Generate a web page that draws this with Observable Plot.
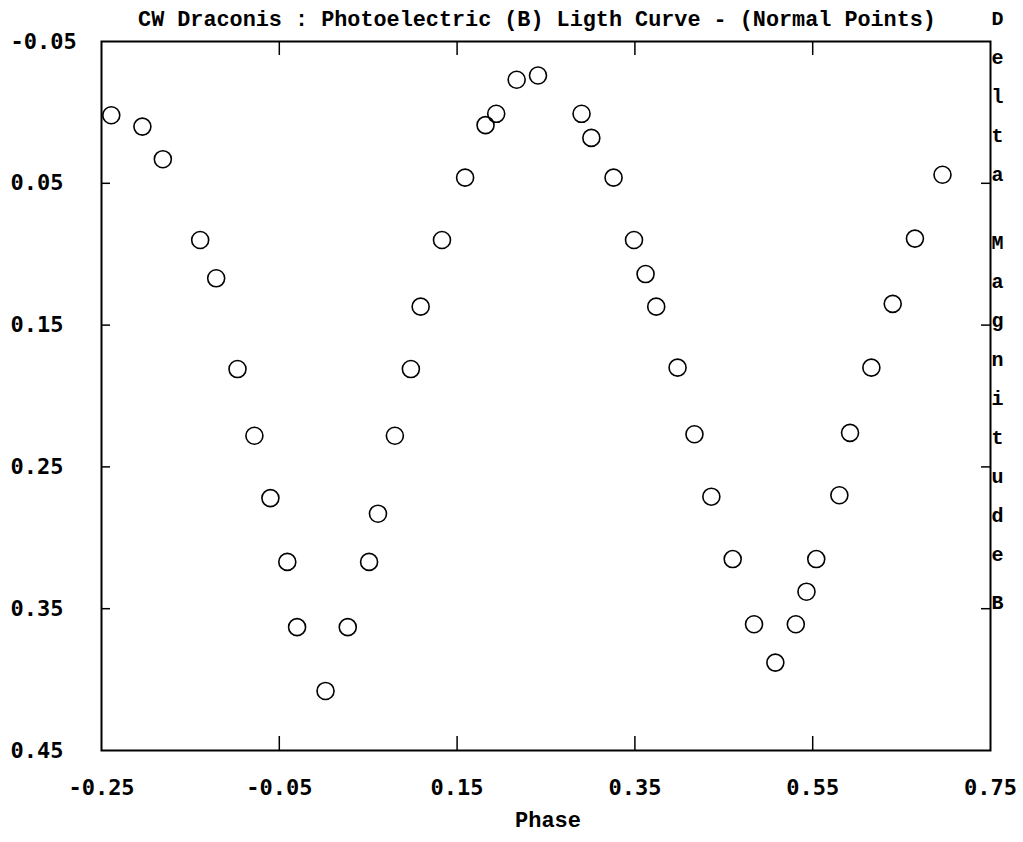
<!DOCTYPE html>
<html>
<head>
<meta charset="utf-8">
<script src="https://cdn.jsdelivr.net/npm/d3@7"></script>
<script src="https://cdn.jsdelivr.net/npm/@observablehq/plot@0.6"></script>
<style>
  html, body { margin: 0; padding: 0; background: #ffffff; }
  #chart svg { display: block; }
</style>
</head>
<body>
<div id="chart"></div>
<script>
// ---- data ----
const phase = [
  -0.239, -0.204, -0.181, -0.139, -0.121, -0.097, -0.078, -0.060, -0.041, -0.030,
   0.002,  0.027,  0.051,  0.061,  0.080,  0.098,  0.109,  0.133,  0.159,  0.182,
   0.194,  0.217,  0.241,  0.290,  0.301,  0.326,  0.349,  0.362,  0.374,  0.398,
   0.417,  0.436,  0.460,  0.484,  0.508,  0.531,  0.543,  0.554,  0.580,  0.592,
   0.616,  0.640,  0.665,  0.696
];
const deltaB = [
   0.002,  0.010,  0.033,  0.090,  0.117,  0.181,  0.228,  0.272,  0.317,  0.363,
   0.408,  0.363,  0.317,  0.283,  0.228,  0.181,  0.137,  0.090,  0.046,  0.009,
   0.001, -0.023, -0.026,  0.001,  0.018,  0.046,  0.090,  0.114,  0.137,  0.180,
   0.227,  0.271,  0.315,  0.361,  0.388,  0.361,  0.338,  0.315,  0.270,  0.226,
   0.180,  0.135,  0.089,  0.044
];
const xTicks = [-0.25, -0.05, 0.15, 0.35, 0.55, 0.75];
const yTicks = [-0.05, 0.05, 0.15, 0.25, 0.35, 0.45];
const titleText = "CW Draconis : Photoelectric (B) Ligth Curve - (Normal Points)";
const xLabelText = "Phase";
const yLabelWords = ["Delta", "Magnitude", "B"];

// ---- build ----
const points = phase.map((p, i) => ({phase: p, dB: deltaB[i]}));
const innerXTicks = xTicks.slice(1, -1);
const innerYTicks = yTicks.slice(1, -1);
const stack = w => w.split("").join("\n");

const W = 1023, H = 842;
const mt = 41, mb = 92, ml = 101, mr = 33;
const innerW = W - ml - mr, innerH = H - mt - mb;
const fmt = d => d.toFixed(2);

const tickFont = {fontFamily: "DejaVu Sans Mono", fontSize: 22, fontWeight: "bold"};
const labelFont = {fontFamily: "Liberation Mono, DejaVu Sans Mono", fontWeight: "bold", fill: "#000"};
const sideFont = {...labelFont, fontSize: 20, lineAnchor: "top", lineHeight: 1.95, frameAnchor: "top-right", dx: 13};

const chart = Plot.plot({
  width: W,
  height: H,
  marginTop: mt,
  marginBottom: mb,
  marginLeft: ml,
  marginRight: mr,
  style: {background: "#ffffff", color: "#000000", overflow: "visible"},
  x: {domain: [xTicks[0], xTicks[xTicks.length - 1]]},
  y: {domain: [yTicks[0], yTicks[yTicks.length - 1]], reverse: true},
  marks: [
    Plot.frame({stroke: "#000", strokeWidth: 2}),
    // inward ticks
    Plot.tickX(innerXTicks, {x: d => d, insetTop: innerH - 14, stroke: "#000", strokeWidth: 1.5}),
    Plot.tickX(innerXTicks, {x: d => d, insetBottom: innerH - 14, stroke: "#000", strokeWidth: 1.5}),
    Plot.tickY(innerYTicks, {y: d => d, insetRight: innerW - 9, stroke: "#000", strokeWidth: 1.5}),
    Plot.tickY(innerYTicks, {y: d => d, insetLeft: innerW - 9, stroke: "#000", strokeWidth: 1.5}),
    // tick labels
    Plot.axisX(xTicks, {anchor: "bottom", tickSize: 0, tickPadding: 29, tickFormat: fmt, label: null, ...tickFont}),
    Plot.axisY(yTicks, {anchor: "left", tickSize: 0, tickPadding: 91, textAnchor: "start", tickFormat: fmt, label: null, ...tickFont}),
    // data
    Plot.dot(points, {x: "phase", y: "dB", r: 8.5, stroke: "#000", strokeWidth: 1.6, fill: "none"}),
    // title, axis titles
    Plot.text([titleText], {frameAnchor: "top", dx: -9, dy: -31, fontSize: 21.8, ...labelFont}),
    Plot.text([xLabelText], {frameAnchor: "bottom", dx: 2, dy: 76, fontSize: 22, ...labelFont}),
    Plot.text([stack(yLabelWords[0])], {...sideFont, dy: -44}),
    Plot.text([stack(yLabelWords[1])], {...sideFont, dy: 180}),
    Plot.text([stack(yLabelWords[2])], {...sideFont, dy: 540})
  ]
});

document.getElementById("chart").appendChild(chart);
</script>
</body>
</html>
